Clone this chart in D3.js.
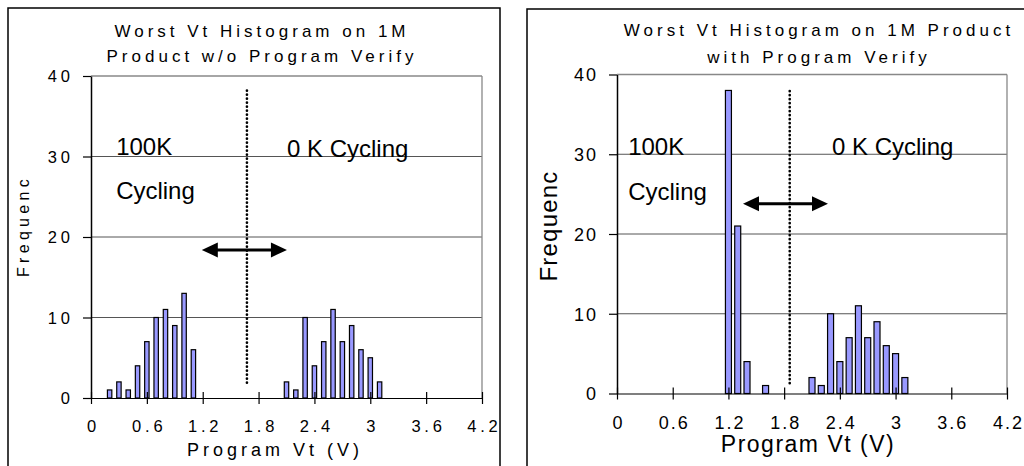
<!DOCTYPE html>
<html>
<head>
<meta charset="utf-8">
<script src="https://cdn.jsdelivr.net/npm/d3@7"></script>
<style>
  body { margin: 0; background: #fff; }
  svg { display: block; font-family: "Liberation Sans", Arial, sans-serif; }
</style>
</head>
<body>
<svg id="chart" width="1024" height="466"></svg>
<script>
// data (bin centre in V, count)
var leftVt = [0.2, 0.3, 0.4, 0.5, 0.6, 0.7, 0.8, 0.9, 1.0, 1.1,
              2.1, 2.2, 2.3, 2.4, 2.5, 2.6, 2.7, 2.8, 2.9, 3.0, 3.1];
var leftCount = [1, 2, 1, 4, 7, 10, 11, 9, 13, 6,
                 2, 1, 10, 4, 7, 11, 7, 9, 6, 5, 2];

var rightVt = [1.2, 1.3, 1.4, 1.6,
               2.1, 2.2, 2.3, 2.4, 2.5, 2.6, 2.7, 2.8, 2.9, 3.0, 3.1];
var rightCount = [38, 21, 4, 1,
                  2, 1, 10, 4, 7, 11, 7, 9, 6, 5, 2];

var xTicks = [0, 0.6, 1.2, 1.8, 2.4, 3.0, 3.6, 4.2];
var xTickLabels = ["0", "0.6", "1.2", "1.8", "2.4", "3", "3.6", "4.2"];
var yTicks = [0, 10, 20, 30, 40];
var gridValues = [10, 20, 30];

var leftTitle = ["Worst Vt Histogram on 1M", "Product w/o Program Verify"];
var rightTitle = ["Worst Vt Histogram on 1M Product", "with Program Verify"];
var xLabel = "Program Vt (V)";
var yLabel = "Frequenc";

var svg = d3.select("#chart");

function drawChart(cfg) {
    var g = svg.append("g");
    var p = cfg.plot;
    var x = d3.scaleLinear().domain([0, 4.2]).range([p.l, p.r]);
    var y = d3.scaleLinear().domain([0, 40]).range([p.b, p.t]);

    // outer frame
    g.append("rect").attr("x", cfg.box[0]).attr("y", cfg.box[1]).attr("width", cfg.box[2]).attr("height", cfg.box[3])
        .attr("fill", "none").attr("stroke", "#000").attr("stroke-width", 1.5);

    // grid + plot border
    g.selectAll(".grid").data(gridValues).enter().append("line")
        .attr("x1", p.l).attr("x2", p.r).attr("y1", d => y(d)).attr("y2", d => y(d))
        .attr("stroke", "#555").attr("stroke-width", 1);
    g.append("line").attr("x1", p.l).attr("x2", p.r).attr("y1", y(40)).attr("y2", y(40)).attr("stroke", "#888").attr("stroke-width", 1.3);
    g.append("line").attr("x1", p.r).attr("x2", p.r).attr("y1", y(40)).attr("y2", y(0)).attr("stroke", "#888").attr("stroke-width", 1.3);

    // bars
    g.selectAll(".bar").data(cfg.vt).enter().append("rect")
        .attr("x", d => x(d) - cfg.barW / 2).attr("width", cfg.barW)
        .attr("y", (d, i) => y(cfg.count[i])).attr("height", (d, i) => y(0) - y(cfg.count[i]))
        .attr("fill", "#9999ff").attr("stroke", "#000").attr("stroke-width", 1.2);

    // x axis
    var xa = g.append("g").attr("transform", "translate(0," + p.b + ")")
        .call(d3.axisBottom(x).tickValues(xTicks).tickFormat((d, i) => xTickLabels[i]).tickSizeOuter(0));
    xa.select(".domain").attr("stroke", "#000").attr("stroke-width", 1.2);
    xa.selectAll(".tick line").attr("y1", -6).attr("y2", 6).attr("stroke", "#000").attr("stroke-width", 1.2);
    xa.selectAll(".tick text").attr("y", cfg.xTickY).attr("dy", 0)
        .attr("font-size", cfg.tickFont).attr("letter-spacing", cfg.tickSp).attr("dx", cfg.tickSp / 2)
        .attr("fill", "#000").attr("font-family", null);

    // y axis
    var ya = g.append("g").attr("transform", "translate(" + p.l + ",0)")
        .call(d3.axisLeft(y).tickValues(yTicks).tickSize(8).tickSizeOuter(0));
    ya.select(".domain").attr("stroke", "#000").attr("stroke-width", 1.5);
    ya.selectAll(".tick line").attr("stroke", "#000").attr("stroke-width", 1.2);
    ya.selectAll(".tick text").attr("x", -cfg.yTickGap + cfg.tickSp).attr("dy", "0.36em")
        .attr("font-size", cfg.tickFont).attr("letter-spacing", cfg.tickSp)
        .attr("fill", "#000").attr("font-family", null);

    // titles
    cfg.title.forEach(function(t, i) {
        g.append("text").attr("x", cfg.titleX).attr("y", cfg.titleY[i]).attr("text-anchor", "middle")
            .attr("font-size", 17).attr("letter-spacing", 4).text(t);
    });
    g.append("text").attr("x", cfg.xLabX).attr("y", cfg.xLabY).attr("text-anchor", "middle")
        .attr("font-size", cfg.xLabFont).attr("letter-spacing", cfg.xLabSp).text(xLabel);
    g.append("text").attr("transform", "translate(" + cfg.yLabX + "," + cfg.yLabY + ") rotate(-90)")
        .attr("text-anchor", "middle").attr("font-size", cfg.yLabFont).attr("letter-spacing", cfg.yLabSp).text(yLabel);

    // annotations
    cfg.notes.forEach(function(n) {
        g.append("text").attr("x", x(n.v)).attr("y", y(n.f)).attr("font-size", 24).text(n.text);
    });
    var dl = cfg.divider;
    g.append("line").attr("x1", x(dl.v)).attr("x2", x(dl.v)).attr("y1", y(dl.f0)).attr("y2", y(dl.f1))
        .attr("stroke", "#000").attr("stroke-width", 2.6).attr("stroke-linecap", "round").attr("stroke-dasharray", "0.1 3.9");
    var ar = cfg.arrow, ax0 = x(ar.v0), ax1 = x(ar.v1), ay = y(ar.f);
    g.append("line").attr("x1", ax0 + 10).attr("x2", ax1 - 10).attr("y1", ay).attr("y2", ay)
        .attr("stroke", "#000").attr("stroke-width", 3);
    g.append("path").attr("d", d3.line()([[ax0, ay], [ax0 + 16, ay - 7.5], [ax0 + 16, ay + 7.5]]) + "Z").attr("fill", "#000");
    g.append("path").attr("d", d3.line()([[ax1, ay], [ax1 - 16, ay - 7.5], [ax1 - 16, ay + 7.5]]) + "Z").attr("fill", "#000");
}

drawChart({
    vt: leftVt, count: leftCount, barW: 4.4,
    box: [8, 8, 492, 480],
    plot: { l: 91, r: 482, t: 76, b: 398 },
    tickFont: 16.5, tickSp: 3.8, xTickY: 34, yTickGap: 21,
    title: leftTitle, titleX: 262, titleY: [37, 62],
    xLabX: 275, xLabY: 456, xLabFont: 18, xLabSp: 4,
    yLabX: 29, yLabY: 226, yLabFont: 16, yLabSp: 4.3,
    notes: [{ text: "100K", v: 0.27, f: 30.2 }, { text: "Cycling", v: 0.27, f: 24.7 }, { text: "0 K Cycling", v: 2.105, f: 29.9 }],
    divider: { v: 1.675, f0: 1.9, f1: 38.4 },
    arrow: { v0: 1.19, v1: 2.105, f: 18.4 }
});

drawChart({
    vt: rightVt, count: rightCount, barW: 6,
    box: [527, 9, 520, 480],
    plot: { l: 617, r: 1007, t: 74.5, b: 393.5 },
    tickFont: 18, tickSp: 2, xTickY: 35, yTickGap: 21,
    title: rightTitle, titleX: 819, titleY: [36, 63],
    xLabX: 808, xLabY: 452, xLabFont: 23, xLabSp: 1.5,
    yLabX: 557, yLabY: 226, yLabFont: 24, yLabSp: 1.2,
    notes: [{ text: "100K", v: 0.12, f: 29.9 }, { text: "Cycling", v: 0.12, f: 24.3 }, { text: "0 K Cycling", v: 2.315, f: 29.9 }],
    divider: { v: 1.86, f0: 1.3, f1: 38.3 },
    arrow: { v0: 1.357, v1: 2.272, f: 23.8 }
});
</script>
</body>
</html>
